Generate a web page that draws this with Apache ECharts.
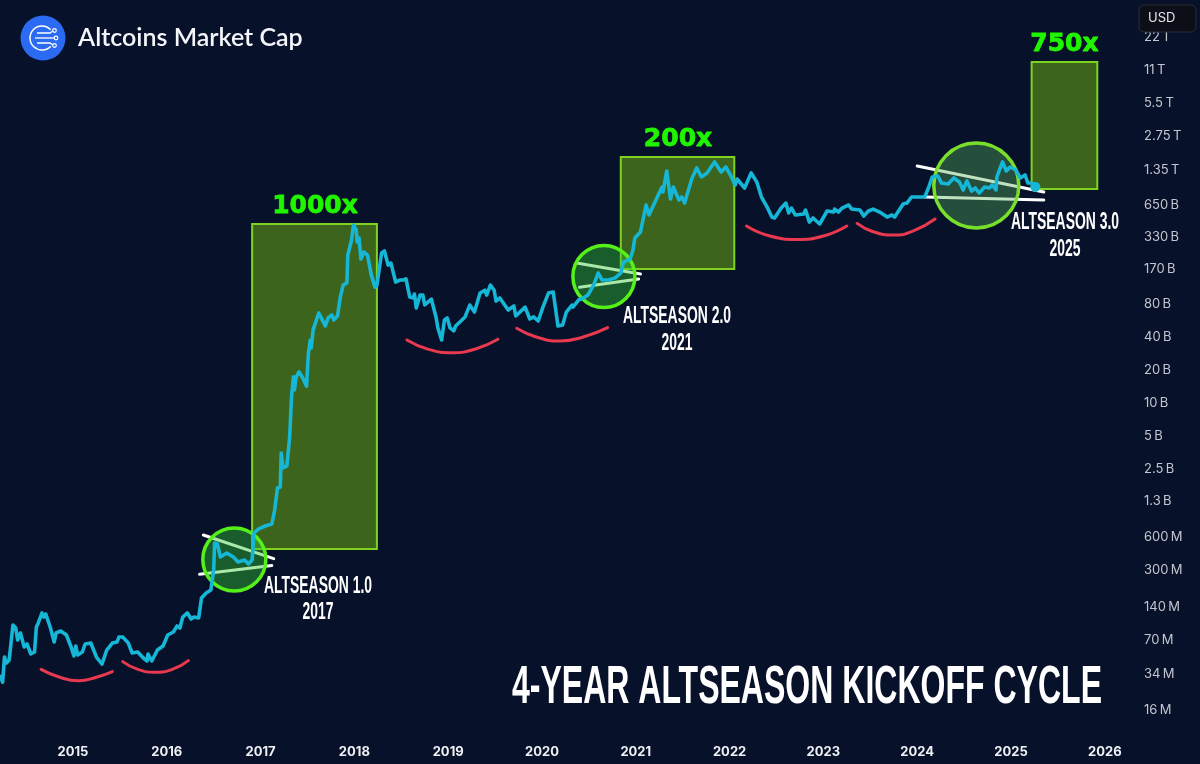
<!DOCTYPE html>
<html>
<head>
<meta charset="utf-8">
<title>Altcoins Market Cap</title>
<script src="https://cdn.jsdelivr.net/npm/echarts@6/dist/echarts.min.js"></script>
<style>
html, body { margin: 0; padding: 0; background: #08112a; }
#chart { width: 1200px; height: 764px; }
</style>
</head>
<body>
<div id="chart"></div>
<script>
// x = decimal year, values = market cap in billions of USD
const yearTicks = [2015, 2016, 2017, 2018, 2019, 2020, 2021, 2022, 2023, 2024, 2025, 2026];
const capTicks = [0.016, 0.034, 0.07, 0.14, 0.3, 0.6, 1.3, 2.5, 5, 10, 20, 40, 80, 170, 330, 650, 1350, 2750, 5500, 11000, 22000];
const capTickLabels = ['16\u2009M', '34\u2009M', '70\u2009M', '140\u2009M', '300\u2009M', '600\u2009M', '1.3\u2009B', '2.5\u2009B', '5\u2009B', '10\u2009B', '20\u2009B', '40\u2009B', '80\u2009B', '170\u2009B', '330\u2009B', '650\u2009B', '1.35\u2009T', '2.75\u2009T', '5.5\u2009T', '11\u2009T', '22\u2009T'];

const altcoinCap = [
  [2014.22, 0.0334], [2014.25, 0.0288], [2014.27, 0.0487], [2014.29, 0.0429], [2014.32, 0.0458], [2014.36, 0.0954], [2014.39, 0.0896], [2014.41, 0.0696],
  [2014.44, 0.0806], [2014.48, 0.0601], [2014.51, 0.064], [2014.55, 0.0519], [2014.59, 0.0541], [2014.61, 0.0915], [2014.63, 0.0995], [2014.67, 0.1228],
  [2014.69, 0.1128], [2014.71, 0.1202], [2014.76, 0.0896], [2014.80, 0.0668], [2014.82, 0.0806], [2014.87, 0.0841], [2014.93, 0.0773], [2014.98, 0.0601],
  [2015.01, 0.0498], [2015.03, 0.0614], [2015.05, 0.0508], [2015.10, 0.0541], [2015.13, 0.064], [2015.19, 0.0653], [2015.25, 0.0487], [2015.31, 0.042],
  [2015.36, 0.0564], [2015.42, 0.0653], [2015.47, 0.0668], [2015.49, 0.0741], [2015.53, 0.0741], [2015.59, 0.0653], [2015.63, 0.053], [2015.69, 0.0541],
  [2015.75, 0.0477], [2015.79, 0.0448], [2015.80, 0.0519], [2015.84, 0.0448], [2015.90, 0.0564], [2015.96, 0.0614], [2016.01, 0.0773], [2016.07, 0.0824],
  [2016.11, 0.0934], [2016.14, 0.0896], [2016.17, 0.1128], [2016.22, 0.1228], [2016.26, 0.1082], [2016.29, 0.1128], [2016.34, 0.1105], [2016.37, 0.168],
  [2016.42, 0.187], [2016.47, 0.199], [2016.50, 0.303], [2016.51, 0.534], [2016.54, 0.523], [2016.57, 0.398], [2016.64, 0.433], [2016.71, 0.398],
  [2016.76, 0.358], [2016.83, 0.374], [2016.87, 0.344], [2016.91, 0.374], [2016.93, 0.659], [2016.98, 0.717], [2017.05, 0.763], [2017.12, 0.796],
  [2017.15, 1.068], [2017.18, 1.695], [2017.21, 1.73], [2017.22, 3.54], [2017.24, 2.58], [2017.28, 2.69], [2017.31, 4.95], [2017.33, 11.5],
  [2017.35, 17.5], [2017.36, 13.3], [2017.38, 17.5], [2017.41, 19.4], [2017.45, 17.1], [2017.49, 14.4], [2017.51, 28.9], [2017.53, 38],
  [2017.54, 32.1], [2017.56, 46.9], [2017.62, 66.9], [2017.64, 68.3], [2017.69, 51], [2017.72, 60.3], [2017.76, 64.2], [2017.78, 57.8],
  [2017.82, 62.9], [2017.85, 93.7], [2017.88, 120], [2017.92, 126], [2017.93, 226], [2017.97, 310], [2017.99, 425], [2018.02, 383],
  [2018.03, 297], [2018.05, 323], [2018.07, 208], [2018.10, 241], [2018.14, 226], [2018.18, 149], [2018.20, 155], [2018.22, 115],
  [2018.24, 120], [2018.29, 236], [2018.32, 246], [2018.36, 183], [2018.39, 191], [2018.44, 128], [2018.49, 134], [2018.52, 134],
  [2018.55, 137], [2018.59, 93.7], [2018.63, 91.7], [2018.64, 99.8], [2018.66, 74.3], [2018.70, 97.7], [2018.73, 97.7], [2018.75, 79.1],
  [2018.82, 89.7], [2018.87, 61.6], [2018.89, 48.9], [2018.93, 38], [2018.96, 57.8], [2018.99, 60.3], [2019.02, 48.9], [2019.06, 45.9],
  [2019.08, 51], [2019.18, 61.6], [2019.23, 79.1], [2019.28, 68.3], [2019.34, 102], [2019.39, 108], [2019.41, 97.7], [2019.45, 120],
  [2019.49, 108], [2019.51, 86], [2019.55, 91.7], [2019.64, 71.3], [2019.70, 77.5], [2019.72, 62.9], [2019.82, 75.8], [2019.87, 59],
  [2019.91, 61.6], [2019.96, 56.6], [2020.01, 75.8], [2020.07, 102], [2020.12, 104], [2020.17, 51], [2020.22, 52], [2020.26, 68.3],
  [2020.32, 79.1], [2020.33, 75.8], [2020.39, 87.9], [2020.44, 91.7], [2020.49, 97.7], [2020.55, 120], [2020.60, 155], [2020.64, 134],
  [2020.71, 134], [2020.78, 140], [2020.84, 155], [2020.87, 195], [2020.94, 208], [2020.97, 251], [2020.99, 323], [2021.05, 367],
  [2021.11, 647], [2021.14, 524], [2021.20, 674], [2021.28, 943], [2021.29, 849], [2021.33, 1322], [2021.35, 1294], [2021.37, 734],
  [2021.40, 943], [2021.46, 718], [2021.49, 765], [2021.52, 674], [2021.60, 1141], [2021.62, 1165], [2021.65, 1408], [2021.70, 1165],
  [2021.76, 1267], [2021.84, 1598], [2021.91, 1294], [2021.96, 1437], [2022.02, 1165], [2022.06, 984], [2022.08, 1117], [2022.16, 924],
  [2022.23, 1267], [2022.29, 1049], [2022.34, 765], [2022.40, 620], [2022.45, 502], [2022.48, 492], [2022.55, 607], [2022.60, 674],
  [2022.63, 547], [2022.66, 607], [2022.70, 524], [2022.79, 535], [2022.81, 582], [2022.85, 452], [2022.89, 492], [2022.96, 434],
  [2023.04, 570], [2023.11, 558], [2023.12, 594], [2023.16, 558], [2023.20, 607], [2023.27, 647], [2023.30, 594], [2023.39, 582],
  [2023.43, 513], [2023.48, 570], [2023.53, 594], [2023.60, 558], [2023.68, 502], [2023.73, 524], [2023.76, 502], [2023.85, 660],
  [2023.89, 674], [2023.94, 765], [2023.99, 765], [2024.08, 765], [2024.12, 924], [2024.16, 1165], [2024.22, 1190], [2024.26, 1026],
  [2024.33, 1005], [2024.39, 1141], [2024.45, 1049], [2024.49, 886], [2024.53, 1071], [2024.58, 867], [2024.62, 924], [2024.66, 832],
  [2024.72, 943], [2024.77, 924], [2024.80, 984], [2024.84, 886], [2024.85, 1165], [2024.91, 1598], [2024.95, 1322], [2024.99, 1437],
  [2025.05, 1350], [2025.10, 1141], [2025.15, 1215], [2025.18, 1026], [2025.22, 1026], [2025.26, 943]
];

// rallies: [year from, cap low, year to, cap high]
const rallyBoxes = [
  [2016.91, 0.471, 2018.24, 434],
  [2020.84, 169, 2022.05, 1773],
  [2025.22, 905, 2025.92, 13045]
];
const rallyLabels = [
  [2017.58, 434, '1000x'],
  [2021.45, 1773, '200x'],
  [2025.57, 13045, '750x']
];

const kickoffCircles = [
  [2016.72, 0.378, 63, 'rgba(50,200,50,0.42)', '#55f01a'],
  [2020.66, 144, 62, 'rgba(50,200,50,0.42)', '#55f01a'],
  [2024.63, 974, 85, 'rgba(90,180,90,0.38)', '#78e02a']
];

const trendLines = [
  [[2016.39, 0.632], [2017.14, 0.384]],
  [[2016.35, 0.277], [2017.12, 0.333]],
  [[2020.37, 191], [2021.05, 152]],
  [[2020.40, 115], [2021.03, 137]],
  [[2024.00, 1468], [2025.35, 849]],
  [[2024.08, 765], [2025.35, 718]]
];

const cycleArcs = [
  [[2014.66, 0.0376], [2014.86, 0.0318], [2015.06, 0.0296], [2015.25, 0.0318], [2015.42, 0.0358]],
  [[2015.53, 0.0442], [2015.68, 0.0379], [2015.87, 0.0353], [2016.07, 0.0379], [2016.23, 0.0451]],
  [[2018.56, 38], [2018.79, 31.2], [2019.05, 29.1], [2019.30, 31.6], [2019.53, 38.5]],
  [[2019.73, 48.6], [2019.94, 40.4], [2020.19, 37.1], [2020.44, 40.4], [2020.70, 49.2]],
  [[2022.18, 416], [2022.43, 337], [2022.72, 314], [2023.00, 337], [2023.25, 416]],
  [[2023.36, 440], [2023.53, 369], [2023.75, 344], [2023.96, 375], [2024.19, 482]]
];

// log2 of the cap in USD millions, so one axis unit is one doubling
const toAxis = b => Math.log2(b * 1000);
const plot = p => [p[0], toAxis(p[1])];

const dom = document.getElementById('chart');
const myChart = echarts.init(dom, null, { renderer: 'canvas' });

const axisTickPos = capTicks.map(toAxis);
const series = [];

series.push({
  type: 'line',
  data: [],
  silent: true,
  z: 1,
  markArea: {
    silent: true,
    itemStyle: { color: '#3d641c', borderColor: '#7ed321', borderWidth: 2 },
    data: rallyBoxes.map(b => [
      { coord: [b[0], toAxis(b[1])] },
      { coord: [b[2], toAxis(b[3])] }
    ])
  }
});

trendLines.forEach(t => {
  series.push({
    type: 'line',
    data: t.map(plot),
    symbol: 'none',
    silent: true,
    z: 2,
    lineStyle: { color: '#ffffff', width: 3, cap: 'round' }
  });
});

kickoffCircles.forEach(c => {
  series.push({
    type: 'scatter',
    data: [[c[0], toAxis(c[1])]],
    symbolSize: c[2],
    silent: true,
    z: 3,
    itemStyle: { color: c[3], borderColor: c[4], borderWidth: 3.5, opacity: 1 }
  });
});

cycleArcs.forEach(a => {
  series.push({
    type: 'line',
    data: a.map(plot),
    smooth: true,
    symbol: 'none',
    silent: true,
    z: 4,
    lineStyle: { color: '#e8394f', width: 3, cap: 'round' }
  });
});

series.push({
  type: 'line',
  data: altcoinCap.map(plot),
  symbol: 'none',
  silent: true,
  z: 5,
  lineStyle: { color: '#15b6d6', width: 3.6, join: 'round' }
});

series.push({
  type: 'scatter',
  data: [plot(altcoinCap[altcoinCap.length - 1])],
  symbolSize: 10,
  silent: true,
  z: 6,
  itemStyle: { color: '#15b6d6', opacity: 1 }
});

series.push({
  type: 'scatter',
  data: rallyLabels.map(l => ({ value: [l[0], toAxis(l[1])], name: l[2] })),
  symbolSize: 0,
  silent: true,
  z: 7,
  itemStyle: { opacity: 1 },
  label: {
    show: true,
    position: 'top',
    distance: 5,
    formatter: '{b}',
    color: '#20f500',
    textBorderColor: '#20f500',
    textBorderWidth: 0.8,
    fontFamily: 'DejaVu Sans',
    fontWeight: 'bold',
    fontSize: 25
  }
});

// condensed look: Liberation Sans squeezed horizontally
const squeezed = (text, x, y, size, scaleX, align) => ({
  type: 'text',
  x: x,
  y: y,
  scaleX: scaleX,
  style: { text: text, fill: '#fff', font: 'bold ' + size + 'px "Liberation Sans"', textAlign: align, textVerticalAlign: 'middle' }
});

const graphics = [
  { type: 'circle', shape: { cx: 43, cy: 38, r: 22.5 }, style: { fill: '#2b6bf3' } },
  { type: 'arc', shape: { cx: 42, cy: 38, r: 12, startAngle: 0.75, endAngle: -0.75, clockwise: true }, style: { fill: null, stroke: '#fff', lineWidth: 1.5 } },
  { type: 'polyline', shape: { points: [[37, 33], [50, 33], [53, 31]] }, style: { fill: null, stroke: '#fff', lineWidth: 1.3 } },
  { type: 'line', shape: { x1: 35, y1: 38, x2: 54, y2: 38 }, style: { stroke: '#fff', lineWidth: 1.3 } },
  { type: 'polyline', shape: { points: [[37, 43], [50, 43], [53, 45]] }, style: { fill: null, stroke: '#fff', lineWidth: 1.3 } },
  { type: 'circle', shape: { cx: 54.5, cy: 30.5, r: 1.8 }, style: { fill: '#2b6bf3', stroke: '#fff', lineWidth: 1.2 } },
  { type: 'circle', shape: { cx: 56, cy: 38, r: 1.8 }, style: { fill: '#2b6bf3', stroke: '#fff', lineWidth: 1.2 } },
  { type: 'circle', shape: { cx: 54.5, cy: 45.5, r: 1.8 }, style: { fill: '#2b6bf3', stroke: '#fff', lineWidth: 1.2 } },
  { type: 'text', x: 78, y: 38, style: { text: 'Altcoins Market Cap', fill: '#f4f6fa', font: '600 25px Lato', textVerticalAlign: 'middle' } },
  // currency box covers the top of the highest tick label
  { type: 'rect', shape: { x: 1139, y: 5, width: 57, height: 27, r: 5 }, style: { fill: '#0c0f18', stroke: '#2a2e39', lineWidth: 1 }, z: 20 },
  { type: 'text', x: 1148, y: 18.5, z: 21, style: { text: 'USD', fill: '#e6e8ee', font: '13px Inter', textVerticalAlign: 'middle' } },
  squeezed('ALTSEASON 1.0', 318, 586, 24, 0.58, 'center'),
  squeezed('2017', 318, 612, 24, 0.58, 'center'),
  squeezed('ALTSEASON 2.0', 677, 316, 24, 0.58, 'center'),
  squeezed('2021', 677, 343, 24, 0.58, 'center'),
  squeezed('ALTSEASON 3.0', 1065, 222, 24, 0.58, 'center'),
  squeezed('2025', 1065, 249, 24, 0.58, 'center'),
  squeezed('4-YEAR ALTSEASON KICKOFF CYCLE', 1102, 688, 54, 0.593, 'right')
];

const option = {
  backgroundColor: '#08112a',
  animation: false,
  grid: { left: 0, right: 65, top: 0, height: 743 },
  xAxis: {
    type: 'value',
    min: 2014.222,
    max: 2026.322,
    axisLine: { show: false },
    axisTick: { show: false },
    splitLine: { show: false },
    axisLabel: {
      customValues: yearTicks,
      formatter: v => String(v),
      color: '#eef0f4',
      fontFamily: 'Inter',
      fontWeight: 'bold',
      fontSize: 13,
      margin: 3
    }
  },
  yAxis: {
    type: 'value',
    position: 'right',
    min: 3,
    max: 25.515,
    axisLine: { show: false },
    axisTick: { show: false },
    splitLine: { show: false },
    axisLabel: {
      customValues: axisTickPos,
      formatter: v => capTickLabels[axisTickPos.findIndex(p => Math.abs(p - v) < 0.01)] || '',
      color: '#c3c6ce',
      fontFamily: 'Inter',
      fontSize: 13,
      align: 'left',
      margin: 9,
      padding: [2, 0, 0, 0]
    }
  },
  series: series,
  graphic: graphics
};

myChart.setOption(option);
window.addEventListener('resize', myChart.resize);
</script>
</body>
</html>
